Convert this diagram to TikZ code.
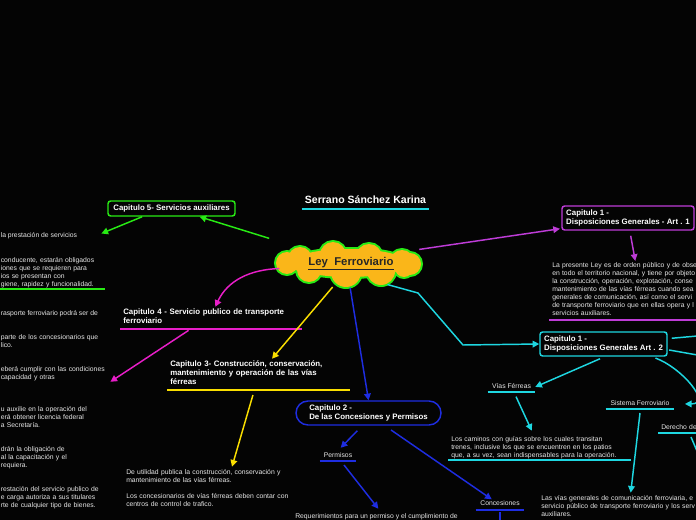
\documentclass[tikz,border=0pt]{standalone}
\usepackage{fontspec}
\setmainfont{Liberation Sans}
\usepackage{xcolor}
\usepackage{tikz}
\usetikzlibrary{shapes,arrows.meta,positioning,calc}

\definecolor{bgc}{RGB}{4,4,4}
\definecolor{txt}{RGB}{232,232,232}
\definecolor{gr}{RGB}{40,235,20}
\definecolor{mg}{RGB}{232,30,200}
\definecolor{yl}{RGB}{250,222,0}
\definecolor{bl}{RGB}{30,45,225}
\definecolor{pu}{RGB}{190,60,215}
\definecolor{cy}{RGB}{30,215,225}
\definecolor{orng}{RGB}{250,182,25}

\begin{document}
\begin{tikzpicture}[
    x=0.75pt, y=-0.75pt,
    para/.style={font=\fontsize{5.1}{6}\selectfont, text=txt, align=left, inner sep=0pt, text width=#1},
    para/.default=150pt,
    lbl/.style={font=\fontsize{5.1}{6}\selectfont, text=txt, inner sep=0pt},
    head/.style={font=\fontsize{5.9}{6.75}\selectfont\bfseries, text=white, align=left, inner sep=0pt, text width=#1},
    box/.style={font=\fontsize{5.9}{6.75}\selectfont\bfseries, text=white, align=left, draw=#1, line width=1.1pt, rounded corners=2pt, inner xsep=2pt, inner ysep=0pt, minimum height=18pt},
    topic/.style={inner xsep=2.25pt, inner ysep=0.6pt, execute at end node=\strut,
        append after command={(\tikzlastnode.south west) edge[draw=#1, line width=1.1pt] (\tikzlastnode.south east)}},
    link/.style={draw=#1, line width=1.1pt, -{Triangle[length=5pt, width=5pt]}},
    wire/.style={draw=#1, line width=1.1pt},
    puffs/.style={insert path={
        (349,263) ellipse[x radius=43.5pt, y radius=10.5pt]
        (287,263) circle[radius=8.25pt] (300,259) circle[radius=9pt]
        (333,255) circle[radius=9.75pt] (369,257) circle[radius=9.75pt]
        (402,262) circle[radius=9pt] (410,264) circle[radius=8.25pt]
        (309,270) circle[radius=9pt] (346,272) circle[radius=11.25pt]
        (381,271) circle[radius=10.5pt] (404,268) circle[radius=6.75pt]}}
]

% Canvas
\useasboundingbox (0,0) rectangle (696,520);
\fill[bgc] (0,0) rectangle (696,520);

% Title and central topic
\node[font=\fontsize{7.9}{9}\selectfont\bfseries, text=white, topic=cy, inner ysep=1pt, minimum width=95.25pt, anchor=south] (author) at (365.5,209) {Serrano Sánchez Karina};
\path[puffs, draw=gr, fill=gr, line width=3pt];
\path[puffs, fill=orng];
\node[ellipse, minimum width=109.5pt, minimum height=36pt, inner sep=0pt,
      font=\fontsize{8.5}{9}\selectfont\bfseries, text=black!85] (ley) at (351,263.5) {\underline{Ley\ \ Ferroviario}};

% Capitulo 5
\node[box=gr, minimum width=95.25pt, minimum height=11.25pt] (cap5) at (171.5,208.5) {Capitulo 5- Servicios auxiliares};
\node[lbl, anchor=base west] (l1) at (0.5,237.6) {la prestación de servicios};
\node[para=77.5pt, topic=gr, inner xsep=0.4pt, inner ysep=0pt, anchor=south west] (l2) at (0,289) {conducente, estarán obligados\\iones que se requieren para\\ios se presentan con\\\mbox{giene, rapidez y funcionalidad.}};
\node[lbl, anchor=base west] (l3) at (0.5,315.6) {rasporte ferroviario podrá ser de};
\node[para=90pt, anchor=base west] (l4) at (0.5,339.6) {parte de los concesionarios que\\lico.};
\node[para=80pt, anchor=base west] (l5) at (0.5,371.6) {\mbox{eberá cumplir con las condiciones}\\capacidad y otras};
\node[para=90pt, anchor=base west] (l6) at (0.5,411.6) {u auxilie en la operación del\\erá obtener licencia federal\\a Secretaría.};
\node[para=90pt, anchor=base west] (l7) at (0.5,451.6) {drán la obligación de\\al la capacitación y el\\requiera.};
\node[para=90pt, anchor=base west] (l8) at (0.5,491.6) {restación del servicio publico de\\e carga autoriza a sus titulares\\rte de cualquier tipo de bienes.};

% Capitulo 4 and 3
\node[head=131.25pt, topic=mg, inner ysep=1.6pt, anchor=south west] (cap4) at (120,329) {Capitulo 4 - Servicio publico de transporte\\ferroviario};
\node[head=132pt, topic=yl, inner ysep=1.6pt, anchor=south west] (cap3) at (167,390) {Capitulo 3- Construcción, conservación,\\mantenimiento y operación de las vías\\férreas};
\node[para, anchor=base west] (cap3txt) at (126,474.6) {De utilidad publica la construcción, conservación y\\mantenimiento de las vías férreas.\\[6pt]Los concesionarios de vías férreas deben contar con\\centros de control de trafico.};

% Capitulo 2
\node[box=bl, minimum width=108.75pt, rounded corners=9pt] (cap2) at (368.5,413) {Capitulo 2 -\\De las Concesiones y Permisos};
\node[lbl, topic=bl, minimum width=27pt, anchor=south] (perm) at (338,461) {Permisos};
\node[lbl, anchor=base west] (req) at (295,518.6) {Requerimientos para un permiso y el cumplimiento de};
\node[lbl, topic=bl, inner ysep=1.3pt, minimum width=36pt, anchor=south] (conc) at (500,510) {Concesiones};
\coordinate (concdown) at (500,535);

% Capitulo 1 - Art. 1
\node[box=pu, minimum width=99pt] (art1) at (628,218) {Capitulo 1 -\\Disposiciones Generales - Art . 1};
\node[para=150pt, topic=pu, inner ysep=1.2pt, anchor=south west] (art1txt) at (549,320) {La presente Ley es de orden público y de obse\\en todo el territorio nacional, y tiene por objeto\\la construcción, operación, explotación, conse\\mantenimiento de las vías férreas cuando sea\\generales de comunicación, así como el servi\\de transporte ferroviario que en ellas opera y l\\servicios auxiliares.};

% Capitulo 1 - Art. 2
\node[box=cy, minimum width=95.25pt] (art2) at (603.5,344) {Capitulo 1 -\\Disposiciones Generales Art . 2};
\node[lbl, topic=cy, minimum width=35.25pt, anchor=south] (vias) at (511.5,392) {Vías Férreas};
\node[para=132pt, topic=cy, inner ysep=0pt, anchor=south west] (caminos) at (448,460) {Los caminos con guías sobre los cuales transitan\\trenes, inclusive los que se encuentren en los patios\\que, a su vez, sean indispensables para la operación.};
\node[lbl, topic=cy, minimum width=51pt, anchor=south] (sis) at (640,409) {Sistema Ferroviario};
\node[para, anchor=base west] (sistxt) at (541,500.6) {Las vías generales de comunicación ferroviaria, e\\servicio público de transporte ferroviario y los serv\\auxiliares.};
\node[para=60pt, topic=cy, anchor=south west] (der) at (658,433) {Derecho de};
\coordinate (offa) at (720,334);
\coordinate (offb) at (720,359);
\coordinate (offc) at (700,458);

% Connectors
\draw[link=gr, shorten <=22pt] (ley.163) -- ([xshift=21pt]cap5.south);
\draw[link=gr] ([xshift=-22pt]cap5.south) -- ([shift={(18pt,1.7pt)}]l1.east);
\draw[link=mg] (ley.184) to[out=182, in=65] ([xshift=3.4pt]cap4.north);
\draw[link=mg] ([shift={(-16.6pt,-1pt)}]cap4.south) -- ([shift={(2pt,-6pt)}]l5.east);
\draw[link=yl] (ley.-128) -- ([xshift=10.3pt]cap3.north);
\draw[link=yl] ([shift={(-4pt,-3.75pt)}]cap3.south) -- ([shift={(4.3pt,2pt)}]cap3txt.north);
\draw[link=bl] (ley.-92) -- (cap2.north);
\draw[link=bl] ([shift={(-8.4pt,-3.75pt)}]cap2.south) -- ([shift={(2pt,2.3pt)}]perm.north);
\draw[link=bl] ([shift={(4.5pt,-3pt)}]perm.south) -- ([shift={(62.5pt,3.5pt)}]req.north west);
\draw[link=bl] ([shift={(16.9pt,-3.2pt)}]cap2.south) -- ([shift={(-6.2pt,-1pt)}]conc.north);
\draw[wire=bl] ([yshift=-1.5pt]conc.south) -- (concdown);
\draw[link=pu, shorten <=5pt] (ley.12) -- ([shift={(-1pt,1.5pt)}]art1.south west);
\draw[link=pu] ([shift={(2pt,-3.75pt)}]art1.south) -- ([xshift=-12.75pt]art1txt.north);
\draw[link=cy] (ley.-30) -- (418,293) -- (463,345) -- (art2.west);
\draw[wire=cy] ([shift={(3pt,4.3pt)}]art2.east) -- (offa);
\draw[wire=cy] ([shift={(1pt,-4.5pt)}]art2.east) -- (offb);
\draw[link=cy] ([shift={(-2.6pt,-1.5pt)}]art2.south) -- (vias.east);
\draw[link=cy] ([shift={(3.4pt,-3.5pt)}]vias.south) -- ([shift={(62.8pt,4pt)}]caminos.north west);
\draw[link=cy] ([shift={(39pt,-1pt)}]art2.south) to[out=-20, in=0, looseness=1.3] ([xshift=8pt]sis.east);
\draw[link=cy] ([yshift=-3pt]sis.south) -- ([shift={(67.3pt,2pt)}]sistxt.north west);
\draw[wire=cy] ([shift={(24.75pt,-3pt)}]der.south west) -- (offc);

\end{tikzpicture}
\end{document}
